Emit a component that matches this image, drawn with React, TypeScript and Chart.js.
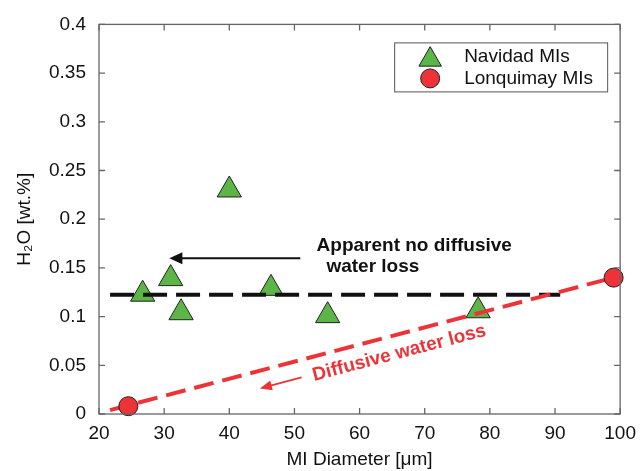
import React, { useEffect, useRef } from 'react';
import { Chart, registerables } from 'chart.js';

Chart.register(...registerables);

// ---- data ----
const navidadDiameter = [26.7, 31.0, 32.6, 40.0, 46.4, 55.1, 78.2];
const navidadH2O = [0.123, 0.139, 0.104, 0.23, 0.129, 0.101, 0.106];
const lonquimayDiameter = [24.5, 99.0];
const lonquimayH2O = [0.008, 0.14];
const noLossLineX = [21.7, 90.8];
const noLossLineY = [0.1225, 0.1225];
const lossLineX = [21.7, 99.0];
const lossLineY = [0.004, 0.14];
const xTicks = [20, 30, 40, 50, 60, 70, 80, 90, 100];
const yTicks = [0, 0.05, 0.1, 0.15, 0.2, 0.25, 0.3, 0.35, 0.4];
const seriesLabels = ['Navidad MIs', 'Lonquimay MIs'];
const noLossText = ['Apparent no diffusive', ' water loss'];
const noLossTextX = [53.4, 54.1];
const noLossTextY = [0.167, 0.1455];
const noLossArrowX = [50.9, 30.8];
const noLossArrowY = [0.16, 0.16];
const lossText = 'Diffusive water loss';
const lossTextX = 66.1;
const lossTextY = 0.0625;
const lossArrowX = [51.1, 44.7];
const lossArrowY = [0.0375, 0.0263];

const GREEN = '#5BB547';
const RED = '#EE3338';
const AXIS = '#666666';
const FONT = "'Liberation Sans', Arial, Helvetica, sans-serif";

function toXY(xs: number[], ys: number[]) {
  return xs.map((x, i) => ({ x, y: ys[i] }));
}

function drawArrow(ctx: CanvasRenderingContext2D, x1: number, y1: number, x2: number, y2: number, color: string, lw: number, headLen: number, headHalf: number) {
  const ang = Math.atan2(y2 - y1, x2 - x1);
  const bx = x2 - Math.cos(ang) * headLen;
  const by = y2 - Math.sin(ang) * headLen;
  ctx.save();
  ctx.strokeStyle = color;
  ctx.fillStyle = color;
  ctx.lineWidth = lw;
  ctx.setLineDash([]);
  ctx.beginPath();
  ctx.moveTo(x1, y1);
  ctx.lineTo(bx + Math.cos(ang) * 2, by + Math.sin(ang) * 2);
  ctx.stroke();
  ctx.beginPath();
  ctx.moveTo(x2, y2);
  ctx.lineTo(bx + Math.sin(ang) * headHalf, by - Math.cos(ang) * headHalf);
  ctx.lineTo(bx - Math.sin(ang) * headHalf, by + Math.cos(ang) * headHalf);
  ctx.closePath();
  ctx.fill();
  ctx.restore();
}

const decorPlugin = {
  id: 'decor',
  afterDatasetsDraw(chart: any) {
    const { ctx, scales } = chart;
    const xs = scales.x;
    const ys = scales.y;
    ctx.save();
    ctx.fillStyle = '#111111';
    ctx.font = `bold 19px ${FONT}`;
    ctx.textAlign = 'left';
    ctx.textBaseline = 'alphabetic';
    noLossText.forEach((t, i) => {
      ctx.fillText(t, xs.getPixelForValue(noLossTextX[i]), ys.getPixelForValue(noLossTextY[i]));
    });
    drawArrow(ctx,
      xs.getPixelForValue(noLossArrowX[0]), ys.getPixelForValue(noLossArrowY[0]),
      xs.getPixelForValue(noLossArrowX[1]), ys.getPixelForValue(noLossArrowY[1]),
      '#111111', 2, 13, 6);
    const lx1 = xs.getPixelForValue(lossLineX[0]);
    const ly1 = ys.getPixelForValue(lossLineY[0]);
    const lx2 = xs.getPixelForValue(lossLineX[1]);
    const ly2 = ys.getPixelForValue(lossLineY[1]);
    const ang = Math.atan2(ly2 - ly1, lx2 - lx1);
    ctx.save();
    ctx.translate(xs.getPixelForValue(lossTextX), ys.getPixelForValue(lossTextY));
    ctx.rotate(ang);
    ctx.fillStyle = RED;
    ctx.font = `bold 19px ${FONT}`;
    ctx.textAlign = 'center';
    ctx.textBaseline = 'middle';
    ctx.fillText(lossText, 0, 0);
    ctx.restore();
    drawArrow(ctx,
      xs.getPixelForValue(lossArrowX[0]), ys.getPixelForValue(lossArrowY[0]),
      xs.getPixelForValue(lossArrowX[1]), ys.getPixelForValue(lossArrowY[1]),
      RED, 1.8, 12, 5);
    ctx.restore();
  },
  afterDraw(chart: any) {
    const { ctx, chartArea: a, scales } = chart;
    const xs = scales.x;
    const ys = scales.y;
    ctx.save();
    ctx.strokeStyle = AXIS;
    ctx.lineWidth = 1.3;
    ctx.setLineDash([]);
    ctx.strokeRect(a.left, a.top, a.right - a.left, a.bottom - a.top);
    const tl = 6;
    ctx.beginPath();
    xTicks.forEach((v) => {
      const px = xs.getPixelForValue(v);
      ctx.moveTo(px, a.bottom);
      ctx.lineTo(px, a.bottom - tl);
      ctx.moveTo(px, a.top);
      ctx.lineTo(px, a.top + tl);
    });
    yTicks.forEach((v) => {
      const py = ys.getPixelForValue(v);
      ctx.moveTo(a.left, py);
      ctx.lineTo(a.left + tl, py);
      ctx.moveTo(a.right, py);
      ctx.lineTo(a.right - tl, py);
    });
    ctx.stroke();

    // legend
    const lx = a.right - 226;
    const ly = a.top + 18;
    const lw = 213;
    const lh = 49;
    ctx.fillStyle = '#ffffff';
    ctx.fillRect(lx, ly, lw, lh);
    ctx.strokeStyle = '#555555';
    ctx.lineWidth = 1;
    ctx.strokeRect(lx + 0.5, ly + 0.5, lw, lh);
    const mx = lx + 36;
    const rows = [ly + 14, ly + 36];
    const r = 13;
    ctx.beginPath();
    ctx.moveTo(mx, rows[0] - r * 0.75);
    ctx.lineTo(mx + r * 0.866, rows[0] + r * 0.75);
    ctx.lineTo(mx - r * 0.866, rows[0] + r * 0.75);
    ctx.closePath();
    ctx.fillStyle = GREEN;
    ctx.fill();
    ctx.strokeStyle = '#222222';
    ctx.lineWidth = 1;
    ctx.stroke();
    ctx.beginPath();
    ctx.arc(mx, rows[1], 9.5, 0, Math.PI * 2);
    ctx.fillStyle = RED;
    ctx.fill();
    ctx.stroke();
    ctx.fillStyle = '#111111';
    ctx.font = `19px ${FONT}`;
    ctx.textAlign = 'left';
    ctx.textBaseline = 'middle';
    ctx.fillText(seriesLabels[0], lx + 70, rows[0]);
    ctx.fillText(seriesLabels[1], lx + 70, rows[1]);
    ctx.restore();
  },
};

export default function App() {
  const ref = useRef<HTMLCanvasElement | null>(null);
  useEffect(() => {
    document.body.style.margin = '0';
    if (!ref.current) return;
    const chart = new Chart(ref.current, {
      type: 'scatter',
      data: {
        datasets: [
          {
            label: seriesLabels[1],
            data: toXY(lonquimayDiameter, lonquimayH2O),
            pointStyle: 'circle',
            pointRadius: 9.5,
            pointBackgroundColor: RED,
            pointBorderColor: '#222222',
            pointBorderWidth: 1,
            order: 0,
            clip: false as any,
          },
          {
            label: 'loss line',
            data: toXY(lossLineX, lossLineY),
            showLine: true,
            pointRadius: 0,
            borderColor: RED,
            borderWidth: 4,
            borderDash: [20, 9],
            order: 1,
          },
          {
            label: 'no loss line',
            data: toXY(noLossLineX, noLossLineY),
            showLine: true,
            pointRadius: 0,
            borderColor: '#111111',
            borderWidth: 4,
            borderDash: [24, 9],
            order: 2,
          },
          {
            label: seriesLabels[0],
            data: toXY(navidadDiameter, navidadH2O),
            pointStyle: 'triangle',
            pointRadius: 14,
            pointBackgroundColor: GREEN,
            pointBorderColor: '#222222',
            pointBorderWidth: 1,
            order: 3,
          },
        ],
      },
      options: {
        responsive: false,
        animation: false,
        layout: { padding: { top: 19, right: 21, left: 0, bottom: 0 } },
        plugins: {
          legend: { display: false },
          tooltip: { enabled: false },
        },
        scales: {
          x: {
            type: 'linear',
            min: 20,
            max: 100,
            afterBuildTicks: (s: any) => {
              s.ticks = xTicks.map((v) => ({ value: v }));
            },
            afterFit: (s: any) => {
              s.height = 57;
            },
            grid: { display: false, drawTicks: false },
            border: { display: false },
            ticks: {
              color: '#111111',
              padding: 8,
              font: { family: FONT, size: 19 },
              callback: (v: any) => String(v),
            },
            title: {
              display: true,
              text: 'MI Diameter [μm]',
              color: '#111111',
              font: { family: FONT, size: 19 },
              padding: { top: 0, bottom: 0 },
            },
          },
          y: {
            type: 'linear',
            min: 0,
            max: 0.4,
            afterBuildTicks: (s: any) => {
              s.ticks = yTicks.map((v) => ({ value: v }));
            },
            afterFit: (s: any) => {
              s.width = 99;
            },
            grid: { display: false, drawTicks: false },
            border: { display: false },
            ticks: {
              color: '#111111',
              padding: 13,
              font: { family: FONT, size: 19 },
              callback: (v: any) => String(Number(Number(v).toFixed(2))),
            },
            title: {
              display: true,
              text: 'H₂O [wt.%]',
              color: '#111111',
              font: { family: FONT, size: 19 },
              padding: { top: 13, bottom: 0 },
            },
          },
        },
      },
      plugins: [decorPlugin],
    });
    return () => chart.destroy();
  }, []);
  return (
    <div style={{ width: 644, height: 471 }}>
      <canvas ref={ref} width={644} height={471} />
    </div>
  );
}
